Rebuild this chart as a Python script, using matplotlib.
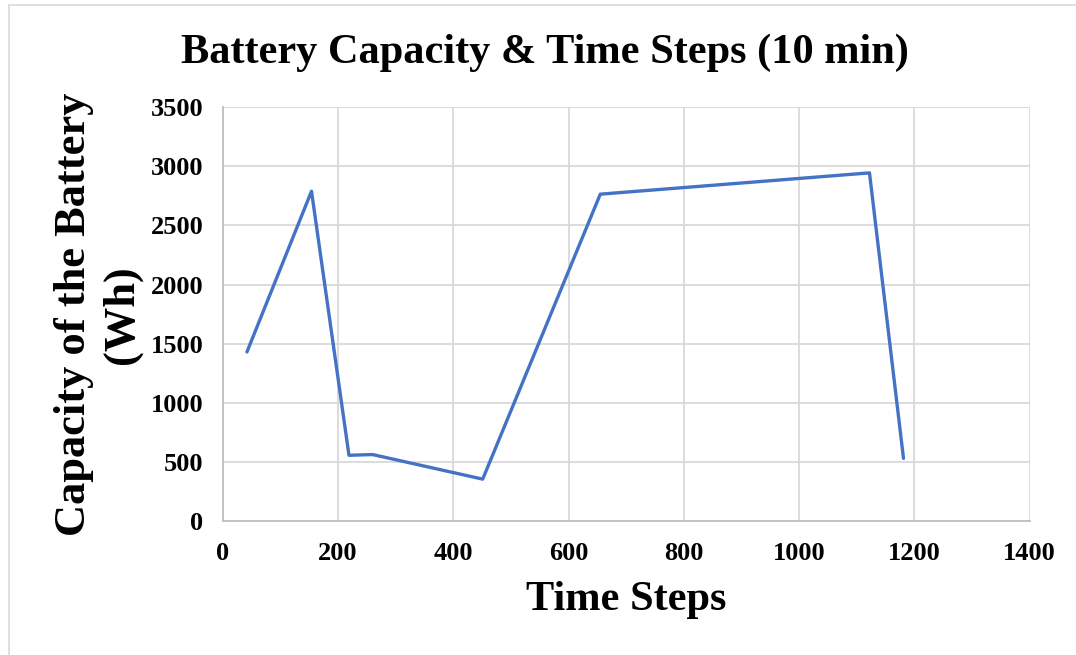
import matplotlib
matplotlib.use("Agg")
import matplotlib.pyplot as plt
from matplotlib.patches import Rectangle

# значения
time_steps = [42, 154, 219, 260, 451, 655, 1122, 1181]
capacity = [1430, 2790, 556, 562, 354, 2765, 2945, 530]

x_ticks = [0, 200, 400, 600, 800, 1000, 1200, 1400]
y_ticks = [0, 500, 1000, 1500, 2000, 2500, 3000, 3500]

plt.rcParams['font.family'] = ['Liberation Serif', 'DejaVu Serif']

fig = plt.figure(figsize=(10.76, 6.55), dpi=100)
ax = fig.add_axes([0.207, 0.2046, 0.75, 0.6316])

ax.plot(time_steps, capacity, color='#4472C4', linewidth=2.4, solid_capstyle='round')

ax.set_xlim(0, 1400)
ax.set_ylim(0, 3500)
ax.set_xticks(x_ticks)
ax.set_yticks(y_ticks)
ax.grid(True, color='#d9d9d9', linewidth=1.3)
ax.set_axisbelow(True)
for s in ['top', 'right']:
    ax.spines[s].set_visible(False)
for s in ['left', 'bottom']:
    ax.spines[s].set_color('#bfbfbf')
    ax.spines[s].set_linewidth(1.3)
ax.tick_params(length=0, labelsize=19)
ax.tick_params(axis='x', pad=15)
ax.tick_params(axis='y', pad=14)
for lab in ax.get_xticklabels() + ax.get_yticklabels():
    lab.set_fontweight('bold')

ax.set_xlabel('Time Steps', fontsize=30.5, fontweight='bold', labelpad=12)
ax.set_ylabel('Capacity of the Battery\n(Wh)', fontsize=32, fontweight='bold',
              linespacing=1.25, labelpad=6)
fig.text(0.506, 0.92, 'Battery Capacity & Time Steps (10 min)', ha='center', va='center',
         fontsize=30.5, fontweight='bold')

# рамка области диаграммы
fig.patches.append(Rectangle((0.008, -0.01), 1.0, 1.003, transform=fig.transFigure,
                             fill=False, edgecolor='#d9d9d9', linewidth=1.2))

fig.savefig('out.png', dpi=100)
